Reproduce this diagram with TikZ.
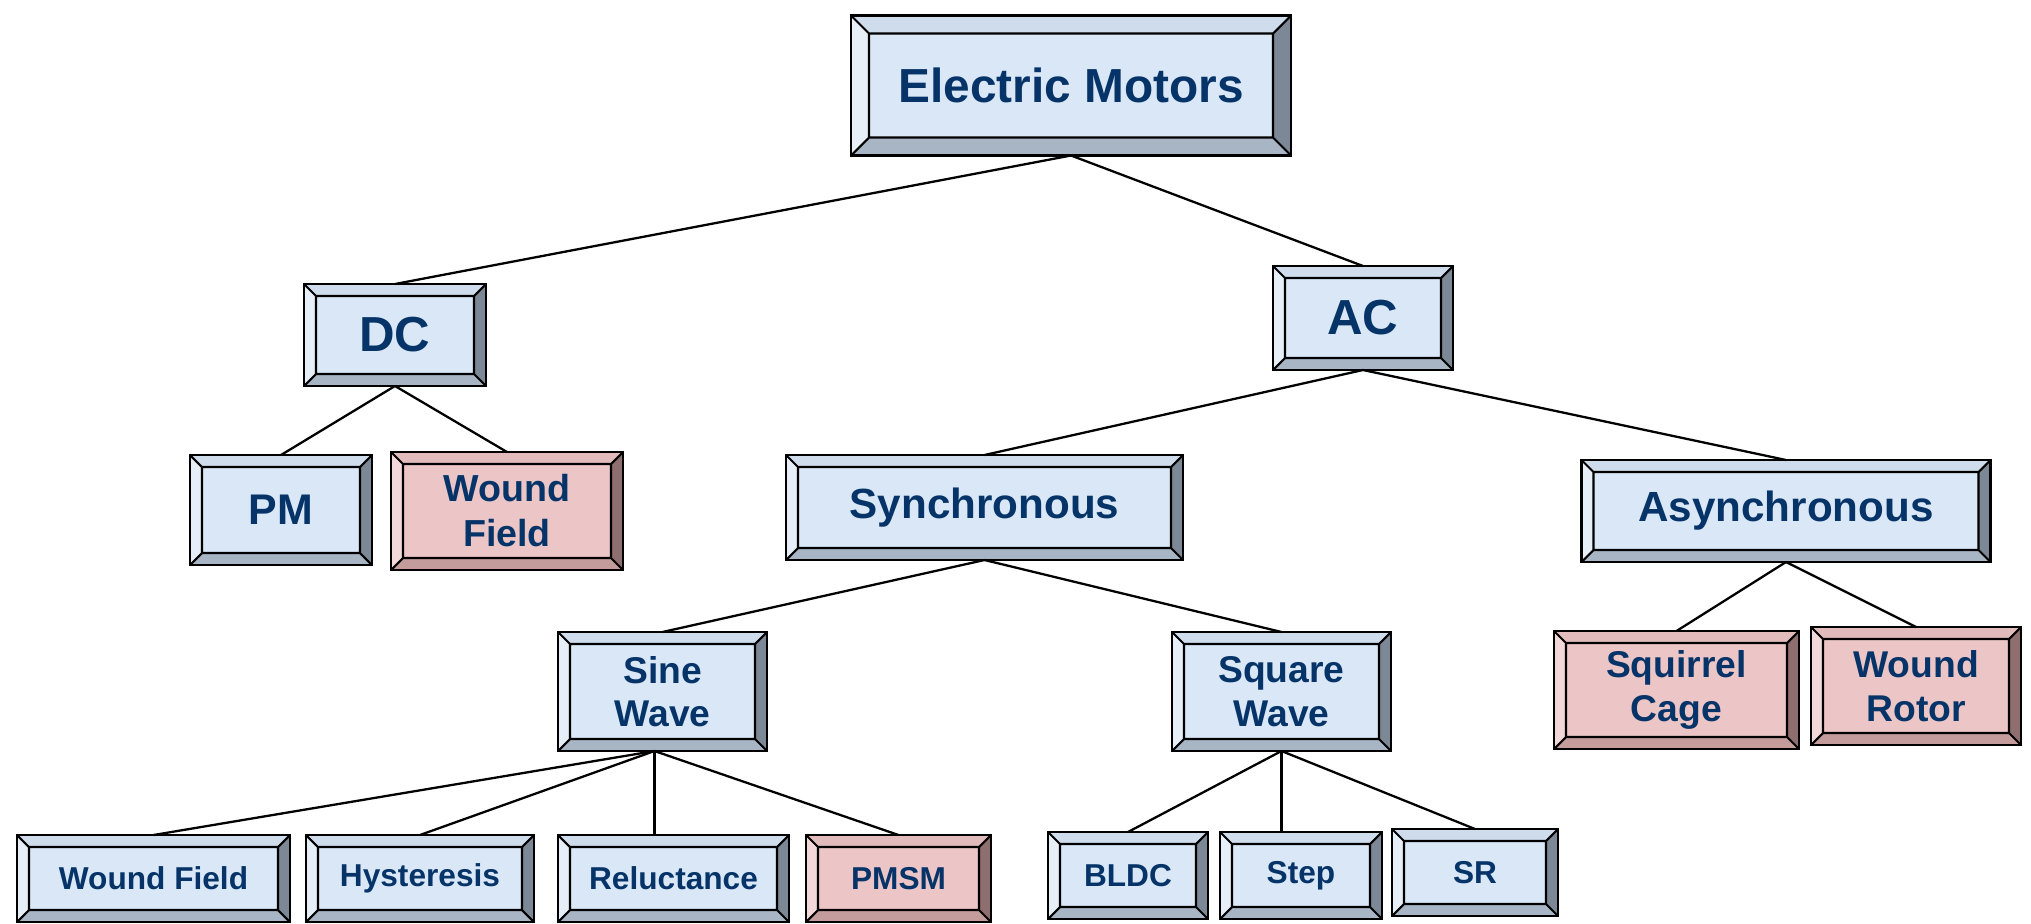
\documentclass[tikz,border=0pt]{standalone}
\usepackage{fontspec}
\setmainfont{Liberation Sans}
\usepackage{tikz}
\usepackage{xcolor}
\usetikzlibrary{positioning, calc}
\definecolor{navytext}{RGB}{6,52,104}
\definecolor{bluefill}{RGB}{217,231,246}
\definecolor{bluetop}{RGB}{206,220,236}
\definecolor{blueleft}{RGB}{230,238,248}
\definecolor{blueright}{RGB}{124,136,150}
\definecolor{bluebottom}{RGB}{168,181,196}
\definecolor{pinkfill}{RGB}{236,198,198}
\definecolor{pinktop}{RGB}{226,188,188}
\definecolor{pinkleft}{RGB}{242,216,216}
\definecolor{pinkright}{RGB}{142,110,110}
\definecolor{pinkbottom}{RGB}{196,156,156}
\tikzset{
	bevel depth/.store in=\bvldepth, bevel depth=0.12cm,
	bevel top/.store in=\bvltop, bevel top=bluetop,
	bevel left/.store in=\bvlleft, bevel left=blueleft,
	bevel right/.store in=\bvlright, bevel right=blueright,
	bevel bottom/.store in=\bvlbottom, bevel bottom=bluebottom,
	bevelbox/.style={rectangle, draw=black, line width=0.8pt, inner sep=0pt, outer sep=0pt,
		align=center, text=navytext,
		path picture={
			\path (path picture bounding box.south west) coordinate (bvA)
				(path picture bounding box.north east) coordinate (bvB);
			\path ([shift={(\bvldepth,\bvldepth)}]bvA) coordinate (bvC)
				([shift={(-\bvldepth,-\bvldepth)}]bvB) coordinate (bvD);
			\fill[fill=\bvltop] (bvA|-bvB)--(bvB)--(bvD)--(bvC|-bvD)--cycle;
			\fill[fill=\bvlleft] (bvA)--(bvC)--(bvC|-bvD)--(bvA|-bvB)--cycle;
			\fill[fill=\bvlright] (bvB)--(bvD)--(bvD|-bvC)--(bvB|-bvA)--cycle;
			\fill[fill=\bvlbottom] (bvA)--(bvC)--(bvD|-bvC)--(bvB|-bvA)--cycle;
			\draw[line width=0.6pt] (bvC) rectangle (bvD)
				(bvA)--(bvC) (bvB)--(bvD) (bvA|-bvB)--(bvC|-bvD) (bvB|-bvA)--(bvD|-bvC);
		}},
	blueblock/.style={bevelbox, fill=bluefill},
	pinkblock/.style={bevelbox, fill=pinkfill, bevel top=pinktop, bevel left=pinkleft,
		bevel right=pinkright, bevel bottom=pinkbottom},
	% font sizes per level
	rootfont/.style={font=\fontsize{13.6}{16}\selectfont\bfseries},
	typefont/.style={font=\fontsize{14}{16.5}\selectfont\bfseries},
	groupfont/.style={font=\fontsize{12}{14.5}\selectfont\bfseries},
	subfont/.style={font=\fontsize{10.6}{12.4}\selectfont\bfseries},
	leaffont/.style={font=\fontsize{9}{11}\selectfont\bfseries},
	branch/.style={line width=0.65pt},
}
\begin{document}
\begin{tikzpicture}
	\useasboundingbox (0,0) rectangle (20.31,-9.23);
	% top levels
	\node[blueblock,rootfont,bevel depth=0.18cm,minimum width=4.40cm,minimum height=1.40cm](root) at (10.71,-0.855){Electric Motors};
	\node[blueblock,typefont,minimum width=1.82cm,minimum height=1.02cm](dc) at (3.95,-3.35){DC};
	\node[blueblock,typefont,minimum width=1.80cm,minimum height=1.04cm](ac) at (13.63,-3.18){AC};
	% DC family
	\node[blueblock,font=\fontsize{12.2}{14}\selectfont\bfseries,minimum width=1.82cm,minimum height=1.10cm](pm) at (2.81,-5.10){PM};
	\node[pinkblock,font=\fontsize{10.7}{12.8}\selectfont\bfseries,minimum width=2.32cm,minimum height=1.18cm](dcfield) at (5.07,-5.11){Wound\\Field};
	% AC family
	\node[blueblock,groupfont,minimum width=3.97cm,minimum height=1.05cm](sync) at (9.845,-5.075){Synchronous};
	\node[blueblock,groupfont,minimum width=4.09cm,minimum height=1.02cm](async) at (17.86,-5.11){Asynchronous};
	\node[blueblock,subfont,minimum width=2.09cm,minimum height=1.19cm](sine) at (6.625,-6.915){Sine\\Wave};
	\node[blueblock,subfont,minimum width=2.19cm,minimum height=1.19cm](square) at (12.815,-6.915){Square\\Wave};
	\node[pinkblock,subfont,minimum width=2.45cm,minimum height=1.18cm](cage) at (16.765,-6.90){Squirrel\\Cage};
	\node[pinkblock,subfont,minimum width=2.10cm,minimum height=1.18cm](rotor) at (19.16,-6.86){Wound\\Rotor};
	% leaves
	\node[blueblock,leaffont,minimum width=2.73cm,minimum height=0.87cm](wfield) at (1.535,-8.785){Wound Field};
	\node[blueblock,leaffont,minimum width=2.28cm,minimum height=0.87cm](hyst) at (4.20,-8.785){Hysteresis};
	\node[blueblock,leaffont,minimum width=2.31cm,minimum height=0.87cm](reluct) at (6.735,-8.785){Reluctance};
	\node[pinkblock,leaffont,minimum width=1.85cm,minimum height=0.87cm](pmsm) at (8.985,-8.785){PMSM};
	\node[blueblock,leaffont,minimum width=1.60cm,minimum height=0.87cm](bldc) at (11.28,-8.755){BLDC};
	\node[blueblock,leaffont,minimum width=1.62cm,minimum height=0.87cm](stepper) at (13.01,-8.755){Step};
	\node[blueblock,leaffont,minimum width=1.66cm,minimum height=0.87cm](sr) at (14.75,-8.725){SR};
	% connectors
	\coordinate (sinefoot) at ([xshift=-0.08cm]sine.south);
	\draw[branch](root.south)--(dc.north);\draw[branch](root.south)--(ac.north);
	\draw[branch](dc.south)--(pm.north);\draw[branch](dc.south)--(dcfield.north);
	\draw[branch](ac.south)--(sync.north);\draw[branch](ac.south)--(async.north);
	\draw[branch](sync.south)--(sine.north);\draw[branch](sync.south)--(square.north);
	\draw[branch](async.south)--(cage.north);\draw[branch](async.south)--(rotor.north);
	\draw[branch](sinefoot)--(wfield.north);\draw[branch](sinefoot)--(hyst.north);
	\draw[branch](sinefoot)--(sinefoot|-reluct.north);\draw[branch](sinefoot)--(pmsm.north);
	\draw[branch](square.south)--(bldc.north);\draw[branch](square.south)--(square.south|-stepper.north);
	\draw[branch](square.south)--(sr.north);
\end{tikzpicture}
\end{document}
